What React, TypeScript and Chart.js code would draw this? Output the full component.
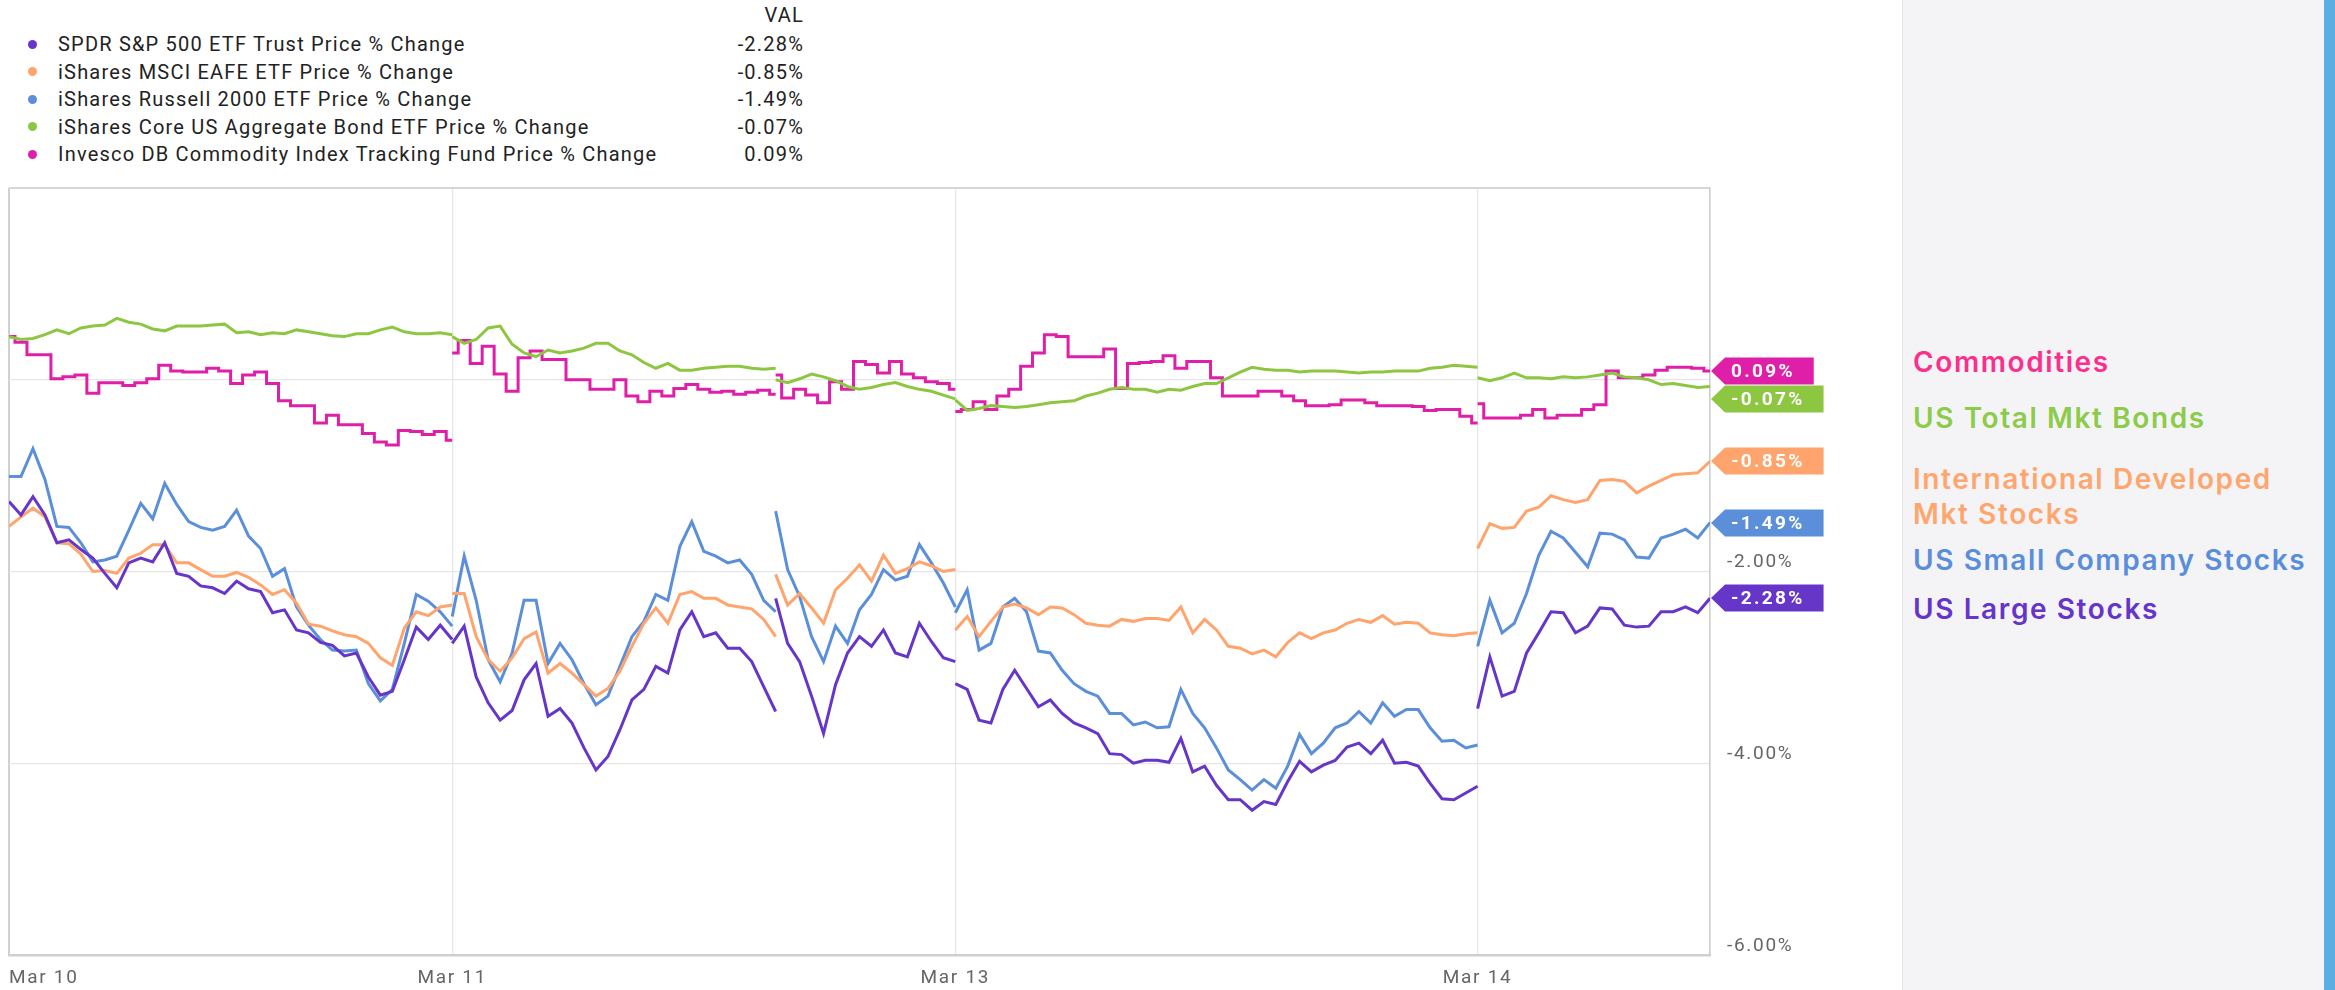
import React, { useEffect, useRef } from "react";
import { Chart, registerables } from "chart.js";

Chart.register(...registerables);

// ---------- time axis structure ----------
// boundaries of the trading sessions on the sample axis (Mar 10 .. Mar 14, last one partial)
const sessionBounds = [0, 37, 64, 79, 122.6, 142];
const tickAt = [0, 37, 79, 122.6];
const tickLabels = ["Mar 10", "Mar 11", "Mar 13", "Mar 14"];

// ---------- series (price % change), one array per session ----------
const spy = [
  [-1.27, -1.41, -1.22, -1.41, -1.70, -1.67, -1.77, -1.86, -2.02, -2.17, -1.91, -1.86, -1.90, -1.70, -2.02, -2.05, -2.15, -2.17, -2.23, -2.10, -2.18, -2.21, -2.43, -2.40, -2.61, -2.64, -2.74, -2.77, -2.88, -2.85, -3.10, -3.29, -3.25, -2.92, -2.58, -2.71, -2.56, -2.71],
  [-2.75, -2.57, -3.10, -3.37, -3.55, -3.45, -3.13, -2.96, -3.51, -3.43, -3.58, -3.84, -4.07, -3.93, -3.65, -3.34, -3.23, -2.99, -3.06, -2.61, -2.42, -2.68, -2.64, -2.80, -2.80, -2.94, -3.20, -3.46],
  [-2.28, -2.75, -2.94, -3.30, -3.69, -3.18, -2.85, -2.68, -2.78, -2.61, -2.85, -2.89, -2.54, -2.73, -2.90, -2.94],
  [-3.17, -3.23, -3.55, -3.58, -3.23, -3.03, -3.22, -3.41, -3.34, -3.48, -3.58, -3.63, -3.69, -3.90, -3.91, -4.00, -3.97, -3.97, -3.99, -3.74, -4.09, -4.03, -4.23, -4.38, -4.38, -4.49, -4.40, -4.43, -4.19, -3.98, -4.09, -4.02, -3.97, -3.83, -3.79, -3.90, -3.76, -4.00, -3.99, -4.03, -4.21, -4.37, -4.38, -4.31, -4.24],
  [-3.43, -2.89, -3.30, -3.25, -2.85, -2.64, -2.42, -2.43, -2.64, -2.57, -2.38, -2.39, -2.56, -2.58, -2.57, -2.42, -2.42, -2.37, -2.43, -2.28],
];
const eafe = [
  [-1.53, -1.43, -1.34, -1.43, -1.70, -1.71, -1.82, -2.00, -1.99, -2.02, -1.86, -1.81, -1.72, -1.72, -1.91, -1.91, -1.98, -2.05, -2.05, -2.01, -2.06, -2.14, -2.24, -2.19, -2.33, -2.55, -2.57, -2.62, -2.66, -2.68, -2.75, -2.90, -2.98, -2.59, -2.42, -2.46, -2.37, -2.35],
  [-2.23, -2.23, -2.68, -2.92, -3.04, -2.90, -2.70, -2.63, -3.06, -2.96, -3.06, -3.18, -3.30, -3.22, -3.04, -2.78, -2.54, -2.38, -2.54, -2.24, -2.21, -2.28, -2.28, -2.35, -2.37, -2.39, -2.50, -2.68],
  [-2.03, -2.35, -2.23, -2.38, -2.54, -2.19, -2.07, -1.93, -2.10, -1.83, -2.02, -1.97, -1.90, -1.94, -2.00, -1.98],
  [-2.61, -2.47, -2.68, -2.52, -2.37, -2.34, -2.38, -2.45, -2.37, -2.38, -2.45, -2.54, -2.56, -2.57, -2.50, -2.52, -2.49, -2.49, -2.51, -2.37, -2.64, -2.50, -2.61, -2.78, -2.80, -2.86, -2.82, -2.89, -2.74, -2.64, -2.70, -2.64, -2.61, -2.54, -2.50, -2.53, -2.46, -2.55, -2.53, -2.54, -2.64, -2.66, -2.67, -2.65, -2.64],
  [-1.76, -1.50, -1.55, -1.54, -1.37, -1.33, -1.21, -1.25, -1.28, -1.25, -1.05, -1.04, -1.06, -1.18, -1.11, -1.05, -0.99, -0.98, -0.97, -0.85],
];
const iwm = [
  [-1.01, -1.01, -0.72, -1.04, -1.53, -1.54, -1.70, -1.90, -1.88, -1.84, -1.57, -1.29, -1.45, -1.08, -1.30, -1.48, -1.54, -1.57, -1.53, -1.36, -1.63, -1.76, -2.05, -1.97, -2.37, -2.56, -2.71, -2.82, -2.83, -2.82, -3.17, -3.35, -3.23, -2.75, -2.24, -2.31, -2.42, -2.57],
  [-2.47, -1.84, -2.30, -2.92, -3.15, -2.85, -2.30, -2.30, -2.96, -2.75, -2.92, -3.17, -3.39, -3.30, -2.99, -2.68, -2.52, -2.24, -2.30, -1.74, -1.48, -1.79, -1.84, -1.91, -1.88, -2.03, -2.30, -2.42],
  [-1.37, -1.98, -2.26, -2.68, -2.94, -2.57, -2.75, -2.40, -2.24, -1.98, -2.09, -2.05, -1.72, -1.91, -2.12, -2.37],
  [-2.43, -2.19, -2.82, -2.75, -2.37, -2.28, -2.42, -2.83, -2.85, -3.03, -3.17, -3.25, -3.30, -3.48, -3.48, -3.60, -3.57, -3.63, -3.62, -3.23, -3.48, -3.63, -3.84, -4.07, -4.17, -4.28, -4.17, -4.26, -4.03, -3.70, -3.90, -3.79, -3.63, -3.58, -3.46, -3.58, -3.37, -3.51, -3.44, -3.44, -3.63, -3.77, -3.76, -3.84, -3.81],
  [-2.78, -2.30, -2.64, -2.54, -2.23, -1.83, -1.58, -1.65, -1.80, -1.95, -1.60, -1.61, -1.67, -1.85, -1.86, -1.65, -1.61, -1.56, -1.65, -1.49],
];
const agg = [
  [0.45, 0.42, 0.43, 0.47, 0.52, 0.48, 0.54, 0.56, 0.57, 0.64, 0.60, 0.58, 0.53, 0.51, 0.56, 0.56, 0.56, 0.57, 0.58, 0.49, 0.50, 0.47, 0.49, 0.48, 0.52, 0.50, 0.48, 0.46, 0.45, 0.48, 0.48, 0.52, 0.55, 0.50, 0.48, 0.48, 0.49, 0.47],
  [0.45, 0.38, 0.42, 0.54, 0.56, 0.37, 0.28, 0.24, 0.31, 0.28, 0.30, 0.33, 0.38, 0.38, 0.30, 0.26, 0.18, 0.12, 0.17, 0.10, 0.10, 0.12, 0.13, 0.14, 0.14, 0.12, 0.11, 0.12],
  [0.00, -0.03, 0.01, 0.06, 0.03, -0.01, -0.07, -0.10, -0.08, -0.05, -0.03, -0.07, -0.10, -0.12, -0.16, -0.20],
  [-0.21, -0.32, -0.30, -0.27, -0.28, -0.29, -0.28, -0.26, -0.24, -0.23, -0.22, -0.17, -0.14, -0.10, -0.08, -0.10, -0.10, -0.13, -0.10, -0.11, -0.07, -0.04, -0.04, 0.02, 0.08, 0.13, 0.11, 0.10, 0.10, 0.08, 0.09, 0.09, 0.09, 0.08, 0.07, 0.08, 0.08, 0.09, 0.09, 0.09, 0.12, 0.13, 0.15, 0.14, 0.13],
  [0.02, -0.01, 0.02, 0.07, 0.02, 0.02, 0.01, 0.03, 0.02, 0.03, 0.05, 0.07, 0.03, 0.02, 0.00, -0.05, -0.04, -0.06, -0.08, -0.07],
];
const dbc = [
  [0.45, 0.39, 0.26, 0.26, 0.01, 0.03, 0.05, -0.14, -0.03, -0.03, -0.06, -0.03, 0.01, 0.15, 0.09, 0.08, 0.08, 0.12, 0.09, -0.04, 0.05, 0.08, -0.04, -0.22, -0.27, -0.27, -0.45, -0.37, -0.47, -0.47, -0.56, -0.65, -0.68, -0.53, -0.54, -0.57, -0.54, -0.63],
  [0.28, 0.41, 0.17, 0.35, 0.06, -0.12, 0.23, 0.30, 0.21, 0.21, 0.00, 0.00, -0.10, -0.10, 0.00, -0.17, -0.23, -0.12, -0.17, -0.09, -0.05, -0.10, -0.13, -0.12, -0.15, -0.13, -0.11, -0.15],
  [0.05, -0.19, -0.10, -0.16, -0.24, -0.02, -0.10, 0.19, 0.16, 0.07, 0.19, 0.06, 0.02, -0.02, -0.04, -0.10],
  [-0.33, -0.31, -0.23, -0.31, -0.17, -0.10, 0.14, 0.28, 0.47, 0.45, 0.24, 0.24, 0.24, 0.32, -0.09, 0.17, 0.18, 0.19, 0.25, 0.12, 0.19, 0.19, 0.02, -0.17, -0.17, -0.17, -0.12, -0.12, -0.17, -0.22, -0.27, -0.27, -0.26, -0.21, -0.21, -0.24, -0.27, -0.27, -0.27, -0.28, -0.32, -0.31, -0.31, -0.38, -0.45],
  [-0.25, -0.40, -0.40, -0.40, -0.37, -0.31, -0.40, -0.37, -0.37, -0.31, -0.26, 0.09, 0.02, 0.02, 0.05, 0.10, 0.13, 0.13, 0.12, 0.09],
];

const seriesNames = [
  "SPDR S&P 500 ETF Trust Price % Change",
  "iShares MSCI EAFE ETF Price % Change",
  "iShares Russell 2000 ETF Price % Change",
  "iShares Core US Aggregate Bond ETF Price % Change",
  "Invesco DB Commodity Index Tracking Fund Price % Change",
];
const seriesData = [spy, eafe, iwm, agg, dbc];
const seriesColors = ["#6636c9", "#ffa46c", "#5b8fd9", "#8dc641", "#e01fa8"];

const panelLabels = [
  { lines: ["Commodities"], color: "#fb2f8c" },
  { lines: ["US Total Mkt Bonds"], color: "#8dcb4a" },
  { lines: ["International Developed", "Mkt Stocks"], color: "#ffa66e" },
  { lines: ["US Small Company Stocks"], color: "#5a8edb" },
  { lines: ["US Large Stocks"], color: "#6634cb" },
];
const panelTops = [[348], [404], [465, 500], [546], [595]];

const lastValue = (s: number[][]) => {
  const last = s[s.length - 1];
  return last[last.length - 1];
};
const fmtPct = (v: number) => v.toFixed(2) + "%";

function toPoints(sessions: number[][]) {
  const pts: { x: number; y: number | null }[] = [];
  sessions.forEach((arr, s) => {
    const a = sessionBounds[s];
    const b = sessionBounds[s + 1];
    if (s > 0) pts.push({ x: a, y: null });
    arr.forEach((v, j) => pts.push({ x: a + (j * (b - a)) / (arr.length - 1), y: v }));
  });
  return pts;
}

const tagPlugin = {
  id: "tagsAndSpacing",
  beforeDraw(chart: any) {
    (chart.ctx as any).letterSpacing = "1.7px";
  },
  afterDraw(chart: any) {
    const { ctx, chartArea } = chart;
    const y = chart.scales.y;
    const h = 27;
    const items = seriesData.map((s, i) => ({
      y: y.getPixelForValue(lastValue(s)),
      text: fmtPct(lastValue(s)),
      color: seriesColors[i],
    }));
    items.sort((a, b) => a.y - b.y);
    for (let i = 1; i < items.length; i++) {
      if (items[i].y < items[i - 1].y + h + 1) items[i].y = items[i - 1].y + h + 1;
    }
    ctx.save();
    ctx.font = "bold 19px Roboto";
    (ctx as any).letterSpacing = "2.3px";
    ctx.textBaseline = "middle";
    ctx.textAlign = "left";
    items.forEach((it) => {
      const tw = ctx.measureText(it.text).width;
      const tip = chartArea.right + 1;
      const bx = tip + 14;
      const right = tip + 20 + tw + 19;
      const cy = Math.round(it.y);
      ctx.beginPath();
      ctx.moveTo(tip, cy);
      ctx.lineTo(bx, cy - h / 2);
      ctx.lineTo(right, cy - h / 2);
      ctx.lineTo(right, cy + h / 2);
      ctx.lineTo(bx, cy + h / 2);
      ctx.closePath();
      ctx.fillStyle = it.color;
      ctx.fill();
      ctx.fillStyle = "#ffffff";
      ctx.fillText(it.text, tip + 20, cy + 1);
    });
    ctx.restore();
    (ctx as any).letterSpacing = "0px";
  },
};

function LineChart() {
  const ref = useRef<HTMLCanvasElement>(null);
  useEffect(() => {
    if (!ref.current) return;
    const chart = new Chart(ref.current, {
      type: "line",
      data: {
        datasets: seriesData.map((s, i) => ({
          label: seriesNames[i],
          data: toPoints(s),
          borderColor: seriesColors[i],
          backgroundColor: seriesColors[i],
          borderWidth: 3,
          pointRadius: 0,
          tension: 0,
          spanGaps: false,
          stepped: i === 4 ? "middle" : false,
        })) as any,
      },
      options: {
        animation: false,
        responsive: true,
        maintainAspectRatio: false,
        layout: { padding: { left: 9, top: 18, right: 0, bottom: 0 } },
        plugins: { legend: { display: false }, tooltip: { enabled: false } },
        scales: {
          x: {
            type: "linear",
            min: sessionBounds[0],
            max: sessionBounds[sessionBounds.length - 1],
            afterBuildTicks: (scale: any) => {
              scale.ticks = [...tickAt, sessionBounds[sessionBounds.length - 1]].map((v) => ({ value: v }));
            },
            afterFit: (scale: any) => {
              scale.height = 35;
              scale.paddingLeft = 0;
              scale.paddingRight = 0;
            },
            ticks: {
              autoSkip: false,
              maxRotation: 0,
              align: "inner",
              padding: 12,
              color: "#666666",
              font: { family: "Roboto", size: 19 },
              callback: (v: any) => {
                const i = tickAt.indexOf(Number(v));
                return i >= 0 ? tickLabels[i] : "";
              },
            },
            grid: {
              drawTicks: false,
              color: (c: any) => (c.tick && c.tick.value === 0 ? "#d0d0d0" : "#e6e6e6"),
              lineWidth: (c: any) => (c.tick && c.tick.value === 0 ? 2 : 1.3),
            },
            border: { display: true, color: "#cfcfcf", width: 2.5 },
          },
          y: {
            position: "right",
            min: -6,
            max: 2,
            afterFit: (scale: any) => {
              scale.width = 190;
              scale.paddingTop = 0;
              scale.paddingBottom = 0;
            },
            ticks: {
              stepSize: 2,
              padding: 17,
              labelOffset: -9,
              color: "#666666",
              font: { family: "Roboto", size: 19 },
              callback: (v: any) => (Number(v) === 2 ? "" : fmtPct(Number(v))),
            },
            grid: {
              drawTicks: false,
              color: (c: any) => (c.tick && c.tick.value === 2 ? "#d6d6d6" : "#e6e6e6"),
              lineWidth: (c: any) => (c.tick && c.tick.value === 2 ? 2 : 1.3),
            },
            border: { display: true, color: "#cccccc", width: 1.5 },
          },
        },
      } as any,
      plugins: [tagPlugin as any],
    });
    return () => chart.destroy();
  }, []);
  return <canvas ref={ref} />;
}

export default function App() {
  const legendTops = [34, 61.5, 89, 116.5, 144];
  const legendText: React.CSSProperties = {
    position: "absolute",
    fontSize: 20,
    lineHeight: "20px",
    letterSpacing: "1.2px",
    color: "#222",
    whiteSpace: "nowrap",
  };
  return (
    <div
      style={{
        position: "fixed",
        left: 0,
        top: 0,
        width: 2335,
        height: 990,
        background: "#ffffff",
        overflow: "hidden",
        fontFamily: "Roboto, sans-serif",
      }}
    >
      <div style={{ ...legendText, left: 680, width: 124, top: 5, textAlign: "right" }}>VAL</div>
      {seriesNames.map((n, i) => (
        <React.Fragment key={n}>
          <div
            style={{
              position: "absolute",
              left: 28,
              top: legendTops[i] + 5.5,
              width: 9,
              height: 9,
              borderRadius: "50%",
              background: seriesColors[i],
            }}
          />
          <div style={{ ...legendText, left: 58, top: legendTops[i] }}>{n}</div>
          <div style={{ ...legendText, left: 680, width: 124, top: legendTops[i], textAlign: "right" }}>
            {fmtPct(lastValue(seriesData[i]))}
          </div>
        </React.Fragment>
      ))}
      <div style={{ position: "absolute", left: 0, top: 170, width: 1900, height: 820 }}>
        <LineChart />
      </div>
      <div
        style={{
          position: "absolute",
          left: 1902,
          top: 0,
          width: 422,
          height: 990,
          background: "#f4f4f7",
          borderLeft: "1.5px solid #e4e4e6",
          boxSizing: "border-box",
        }}
      />
      <div style={{ position: "absolute", left: 2324, top: 0, width: 11, height: 990, background: "#5aafe2" }} />
      {panelLabels.map((p, i) =>
        p.lines.map((ln, j) => (
          <div
            key={ln}
            style={{
              position: "absolute",
              left: 1913,
              top: panelTops[i][j],
              fontFamily: "Inter, sans-serif",
              fontWeight: 600,
              fontSize: 28,
              lineHeight: "28px",
              letterSpacing: "1.6px",
              color: p.color,
              whiteSpace: "nowrap",
            }}
          >
            {ln}
          </div>
        ))
      )}
    </div>
  );
}
